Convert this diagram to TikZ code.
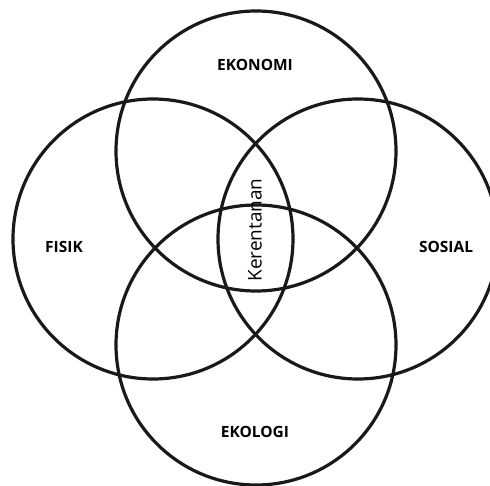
\documentclass[tikz,border=0pt]{standalone}
\usepackage{fontspec}
\setmainfont{Open Sans}
\begin{document}
\begin{tikzpicture}[x=1pt,y=-1pt,
  ring/.style={circle,draw=black!90,line width=3.2pt,minimum size=280pt,inner sep=0pt},
  lab/.style={font=\fontsize{15.5}{18}\selectfont\bfseries,inner sep=0pt},
  core/.style={font=\fontsize{19}{22}\selectfont,inner sep=0pt,rotate=90}]
\useasboundingbox (0,0) rectangle (490,486);
\node[ring] (ekonomi) at (256,151) {};
\node[ring] (fisik) at (153,239) {};
\node[ring] (sosial) at (358,239) {};
\node[ring] (ekologi) at (256,345) {};
\node[lab] (tekonomi) at (255,65) {EKONOMI};
\node[lab] (tfisik) at (64,247) {FISIK};
\node[lab] (tsosial) at (446,247) {SOSIAL};
\node[lab] (tekologi) at (255,432) {EKOLOGI};
\node[core] (tker) at (255,230) {Kerentanan};
\end{tikzpicture}
\end{document}
